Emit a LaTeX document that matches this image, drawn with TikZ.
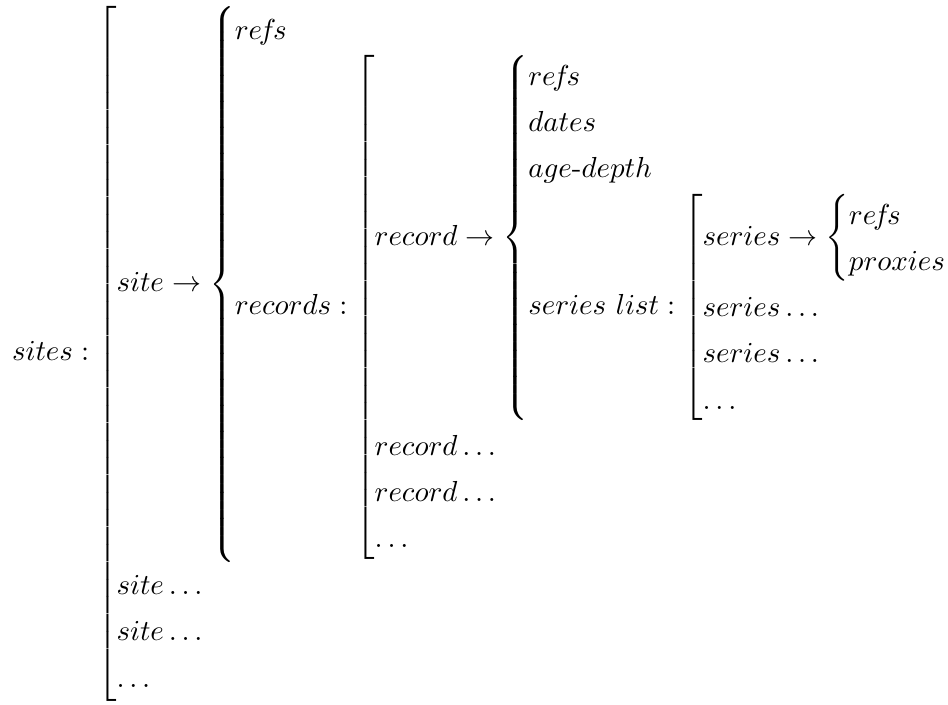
\documentclass[tikz,border=0pt]{standalone}
\usepackage{amsmath}
\usetikzlibrary{calc}
\newcommand{\LBk}[1]{\left[\begin{array}{@{}l@{}}#1\end{array}\right.}
\newcommand{\CBr}[1]{\left\{\begin{array}{@{}l@{}}#1\end{array}\right.}
\newcommand{\refsw}{re\mkern-2mu f\mkern-2mu s}
\tikzset{formula/.style={inner sep=0pt, outer sep=0pt}}
\begin{document}
\begin{tikzpicture}
\renewcommand{\arraystretch}{1.33}
\nulldelimiterspace=0pt
\node[formula] (f) {$\displaystyle
sites : \LBk{
  site \rightarrow \CBr{
    \refsw \\
    records : \LBk{
      record \rightarrow \CBr{
        \refsw \\ dates \\ age\text{-}depth \\
        series\ list : \LBk{
          series \rightarrow \CBr{ \refsw \\ proxies } \\
          series \ldots \\
          series \ldots \\
          \ldots
        }
      } \\
      record \ldots \\
      record \ldots \\
      \ldots
    }
  } \\
  site \ldots \\
  site \ldots \\
  \ldots
}$};
\useasboundingbox let \p1=(f.south west), \p2=(f.north east), \n1={\x2-\x1}, \n2={\y2-\y1} in
  (\x1-0.0129*\n1, \y1-0.0043*\n2) rectangle (\x2+0.0032*\n1, \y2+0.0087*\n2);
\end{tikzpicture}
\end{document}
